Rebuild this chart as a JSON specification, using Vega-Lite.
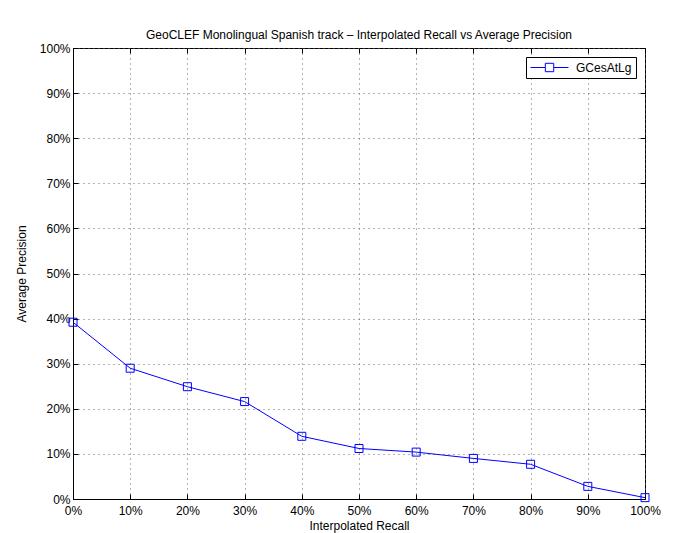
{
  "$schema": "https://vega.github.io/schema/vega-lite/v6.json",
  "width": 572,
  "height": 451,
  "autosize": "none",
  "padding": {"left": 73, "top": 48, "right": 40, "bottom": 34},
  "background": "white",
  "title": {"text": "GeoCLEF Monolingual Spanish track – Interpolated Recall vs Average Precision", "font": "Liberation Sans", "fontSize": 12, "fontWeight": "normal", "color": "black", "offset": 0},
  "config": {
    "view": {"stroke": "black", "strokeWidth": 1},
    "axis": {
      "labelFont": "Liberation Sans", "labelFontSize": 12, "labelColor": "black", "labelFlush": false, "labelOverlap": false,
      "titleFont": "Liberation Sans", "titleFontSize": 12, "titleFontWeight": "normal", "titleColor": "black",
      "domainColor": "black", "tickColor": "black", "tickSize": -5,
      "gridColor": "#666", "gridDash": [1, 4], "gridOpacity": 1
    }
  },
  "data": {"values": [
    {"recall": 0.0, "precision": 0.392, "run": "GCesAtLg"},
    {"recall": 0.1, "precision": 0.290, "run": "GCesAtLg"},
    {"recall": 0.2, "precision": 0.249, "run": "GCesAtLg"},
    {"recall": 0.3, "precision": 0.216, "run": "GCesAtLg"},
    {"recall": 0.4, "precision": 0.139, "run": "GCesAtLg"},
    {"recall": 0.5, "precision": 0.112, "run": "GCesAtLg"},
    {"recall": 0.6, "precision": 0.104, "run": "GCesAtLg"},
    {"recall": 0.7, "precision": 0.090, "run": "GCesAtLg"},
    {"recall": 0.8, "precision": 0.077, "run": "GCesAtLg"},
    {"recall": 0.9, "precision": 0.028, "run": "GCesAtLg"},
    {"recall": 1.0, "precision": 0.003, "run": "GCesAtLg"}
  ]},
  "layer": [
    {
      "mark": {"type": "line", "strokeWidth": 1},
      "encoding": {
        "x": {"field": "recall", "type": "quantitative", "scale": {"domain": [0, 1], "nice": false},
              "axis": {"orient": "bottom", "title": "Interpolated Recall", "format": ".0%", "values": [0,0.1,0.2,0.3,0.4,0.5,0.6,0.7,0.8,0.9,1], "labelPadding": 11, "titlePadding": 4, "grid": true}},
        "y": {"field": "precision", "type": "quantitative", "scale": {"domain": [0, 1], "nice": false},
              "axis": {"orient": "left", "title": "Average Precision", "format": ".0%", "values": [0,0.1,0.2,0.3,0.4,0.5,0.6,0.7,0.8,0.9,1], "labelPadding": 8, "titlePadding": 11, "grid": true}},
        "color": {"field": "run", "type": "nominal", "scale": {"range": ["#0000ff"]},
                  "legend": {"title": null, "orient": "top-right", "offset": 9, "strokeColor": "black", "fillColor": "white", "padding": 4,
                             "symbolType": "M-1,0H1.47M2.87,0H5.33M1.47,-0.7H2.87V0.7H1.47Z", "symbolSize": 144, "symbolStrokeWidth": 1,
                             "symbolStrokeColor": "#0000ff", "symbolFillColor": "transparent", "labelFont": "Liberation Sans", "labelFontSize": 12, "labelColor": "black", "labelOffset": 33}}
      }
    },
    {
      "mark": {"type": "point", "shape": "square", "size": 64, "filled": false, "strokeWidth": 1, "color": "#0000ff", "opacity": 1},
      "encoding": {
        "x": {"field": "recall", "type": "quantitative",
              "axis": {"orient": "top", "title": null, "labels": false, "grid": false, "domain": false, "values": [0,0.1,0.2,0.3,0.4,0.5,0.6,0.7,0.8,0.9,1]}},
        "y": {"field": "precision", "type": "quantitative",
              "axis": {"orient": "right", "title": null, "labels": false, "grid": false, "domain": false, "values": [0,0.1,0.2,0.3,0.4,0.5,0.6,0.7,0.8,0.9,1]}}
      }
    }
  ],
  "resolve": {"axis": {"x": "independent", "y": "independent"}}
}
